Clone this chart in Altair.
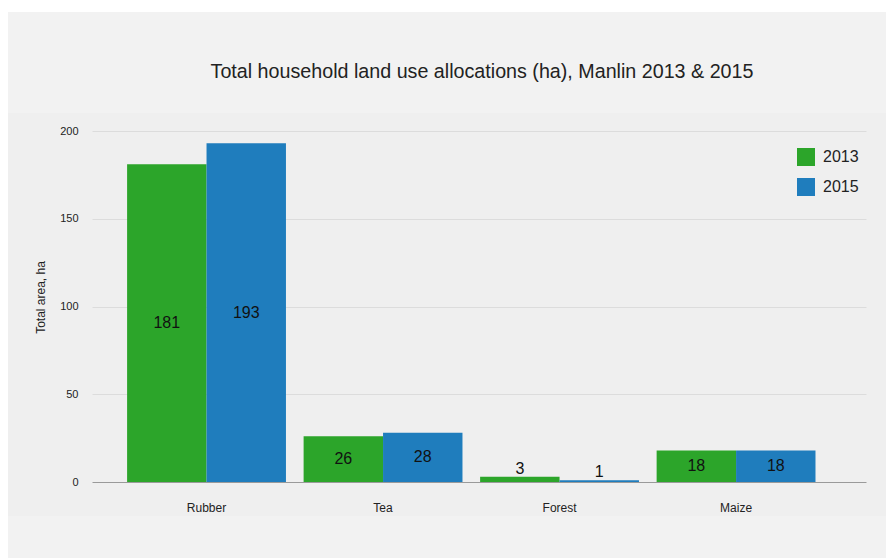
import altair as alt
import pandas as pd

categories = ["Rubber", "Tea", "Forest", "Maize"]
years = ["2013", "2015"]
area_2013 = [181, 26, 3, 18]
area_2015 = [193, 28, 1, 18]
y_ticks = [0, 50, 100, 150, 200]
colors = ["#2ca52a", "#1f7dbd"]

rows = []
for c, a, b in zip(categories, area_2013, area_2015):
    rows.append({"crop": c, "year": years[0], "area": a})
    rows.append({"crop": c, "year": years[1], "area": b})
df = pd.DataFrame(rows)

W, H = 774, 351
PL, PT, PR, PB = 84, 123, 20, 76
FONT = "Liberation Sans"

x_axis = alt.Axis(title=None, labelAngle=0, ticks=False, domain=False,
                  labelPadding=20, labelFontSize=12, labelColor="#222222", grid=False)
x_enc = alt.X("crop:N", sort=categories,
              scale=alt.Scale(paddingInner=0.1, paddingOuter=0.2425, align=0.41),
              axis=x_axis)
xoff = alt.XOffset("year:N", sort=years, scale=alt.Scale(paddingInner=0, paddingOuter=0))
y_scale = alt.Scale(domain=[0, 200], nice=False)

y_axis = alt.Axis(values=y_ticks, title="Total area, ha", ticks=False, domain=False,
                  labelFontSize=11, labelColor="#222222", labelPadding=14,
                  gridColor=alt.condition("datum.value === 0", alt.value("#9a9a9a"), alt.value("#dcdcdc")),
                  titleFontSize=12, titleFontWeight="normal", titleColor="#222222",
                  titleAngle=270, titleX=-52, titleY=166, titleAlign="center",
                  titleBaseline="middle")

one = pd.DataFrame({"k": [0]})

title_band = alt.Chart(one).mark_rect(color="#f2f2f2").encode(
    x=alt.value(-PL - 2), x2=alt.value(W + PR + 2), y=alt.value(-PT + 4), y2=alt.value(-18))
white_strip = alt.Chart(one).mark_rect(color="#ffffff").encode(
    x=alt.value(-PL - 2), x2=alt.value(W + PR + 2), y=alt.value(-PT - 2), y2=alt.value(-PT + 4))
bottom_band = alt.Chart(one).mark_rect(color="#f2f2f2").encode(
    x=alt.value(-PL - 2), x2=alt.value(W + PR + 2), y=alt.value(385), y2=alt.value(H + PB + 2))

bars = alt.Chart(df).mark_bar().encode(
    x=x_enc, xOffset=xoff,
    y=alt.Y("area:Q", scale=y_scale, axis=y_axis),
    color=alt.Color("year:N", scale=alt.Scale(domain=years, range=colors),
                    legend=alt.Legend(title=None, orient="none", legendX=705, legendY=17,
                                      symbolType="square", symbolSize=324, symbolStrokeWidth=0,
                                      labelFontSize=16, labelFont=FONT, labelColor="#222222",
                                      labelOffset=8, rowPadding=12, padding=0)),
)

labels_in = alt.Chart(df).transform_filter("datum.area >= 10").transform_calculate(
    mid="datum.area / 2").mark_text(fontSize=16, font=FONT, color="#111111", baseline="middle").encode(
    x=x_enc, xOffset=xoff,
    y=alt.Y("mid:Q", scale=y_scale, axis=y_axis),
    text="area:Q")

labels_out = alt.Chart(df).transform_filter("datum.area < 10").mark_text(
    fontSize=16, font=FONT, color="#111111", baseline="alphabetic", dy=-3).encode(
    x=x_enc, xOffset=xoff,
    y=alt.Y("area:Q", scale=y_scale, axis=y_axis),
    text="area:Q")

chart = alt.layer(title_band, white_strip, bottom_band, bars, labels_in, labels_out).properties(
    width=W, height=H,
    title=alt.Title("Total household land use allocations (ha), Manlin 2013 & 2015",
                    font=FONT, fontSize=19.7, fontWeight="normal", color="#222222",
                    anchor="middle", frame="group", offset=-76, dx=3),
    padding={"left": PL, "top": PT, "right": PR, "bottom": PB},
    autosize=alt.AutoSizeParams(type="none"),
    background="#efefef",
).configure_view(stroke=None).configure_axis(labelFont=FONT, titleFont=FONT)

chart.save("out.html", embed_options={"renderer": "svg", "actions": False})
